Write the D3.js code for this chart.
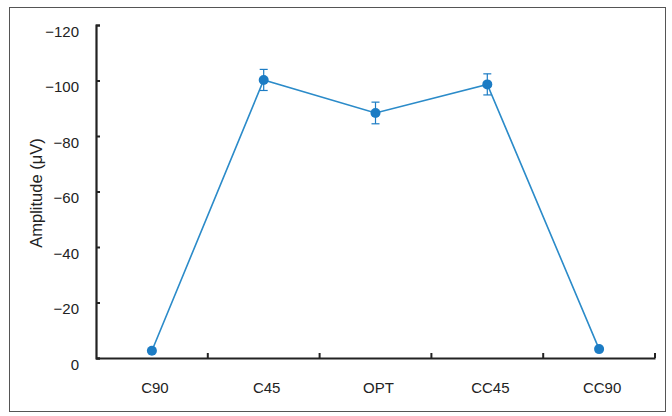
<!DOCTYPE html>
<html><head><meta charset="utf-8">
<script src="https://cdn.jsdelivr.net/npm/d3@7"></script>
<style>body{margin:0;background:#fff}svg{display:block}</style>
</head><body><svg id="c" width="672" height="416"></svg>
<script>
const categories = ["C90","C45","OPT","CC45","CC90"];
const amplitude = [-2.6, -100.2, -88.3, -98.6, -3.2];
const errors = [1.0, 3.8, 3.9, 3.8, 1.0];
const yTicks = [0, -20, -40, -60, -80, -100, -120];

const svg = d3.select("#c");
const font = "'Liberation Sans', Arial, sans-serif";
const x = d3.scaleBand().domain(categories).range([96, 655]).padding(0);
const y = d3.scaleLinear().domain([0, -120]).range([358, 25]);

// outer frame
svg.append("rect").attr("x",9.5).attr("y",7.5).attr("width",656).attr("height",404)
  .attr("fill","none").attr("stroke","#555").attr("stroke-width",1);

// y axis
const ya = svg.append("g").attr("transform","translate(96,0)")
  .call(d3.axisLeft(y).tickValues(yTicks).tickSize(-4).tickPadding(17)
    .tickFormat(d => d === 0 ? "0" : "\u2212" + Math.abs(d)));
ya.attr("font-size",15);
ya.select(".domain").attr("stroke","#222").attr("stroke-width",2.2);
ya.selectAll(".tick line").attr("stroke","#222").attr("stroke-width",2);
ya.selectAll(".tick text").attr("font-family",font).attr("font-size",15).attr("fill","#222").attr("dy","0.75em");

// x axis
const xa = svg.append("g").attr("transform","translate(0,358)")
  .call(d3.axisBottom(x).tickSize(0).tickPadding(24));
xa.attr("font-size",15);
xa.select(".domain").attr("stroke","#222").attr("stroke-width",2.2);
xa.selectAll(".tick text").attr("font-family",font).attr("font-size",15).attr("fill","#222").attr("dx","3");
// band boundary ticks pointing up
const bounds = categories.slice(1).map(c => x(c)).concat([x.range()[1]]);
svg.append("g").selectAll("line").data(bounds).join("line")
  .attr("x1",d=>d).attr("x2",d=>d).attr("y1",358).attr("y2",353)
  .attr("stroke","#222").attr("stroke-width",2);

// y title
svg.append("text").attr("transform","translate(42,193) rotate(-90)")
  .attr("text-anchor","middle").attr("font-family",font).attr("font-size",16.5).attr("fill","#222")
  .text("Amplitude (\u03bcV)");

const data = categories.map((c,i)=>({c, v: amplitude[i], e: errors[i]}));
const cx = d => x(d.c) + x.bandwidth()/2;
const blue = "#1c7cc4";

// line
svg.append("path").datum(data)
  .attr("d", d3.line().x(cx).y(d=>y(d.v)))
  .attr("fill","none").attr("stroke","#2b8bc9").attr("stroke-width",1.6);

// error bars
const eb = svg.append("g").selectAll("g").data(data.filter(d=>d.e>2)).join("g");
eb.append("line").attr("x1",cx).attr("x2",cx).attr("y1",d=>y(d.v-d.e)).attr("y2",d=>y(d.v+d.e))
  .attr("stroke",blue).attr("stroke-width",1.2);
eb.append("line").attr("x1",d=>cx(d)-4).attr("x2",d=>cx(d)+4).attr("y1",d=>y(d.v-d.e)).attr("y2",d=>y(d.v-d.e))
  .attr("stroke",blue).attr("stroke-width",1.2);
eb.append("line").attr("x1",d=>cx(d)-4).attr("x2",d=>cx(d)+4).attr("y1",d=>y(d.v+d.e)).attr("y2",d=>y(d.v+d.e))
  .attr("stroke",blue).attr("stroke-width",1.2);

// markers
svg.append("g").selectAll("circle").data(data).join("circle")
  .attr("cx",cx).attr("cy",d=>y(d.v)).attr("r",5).attr("fill",blue);
</script></body></html>
